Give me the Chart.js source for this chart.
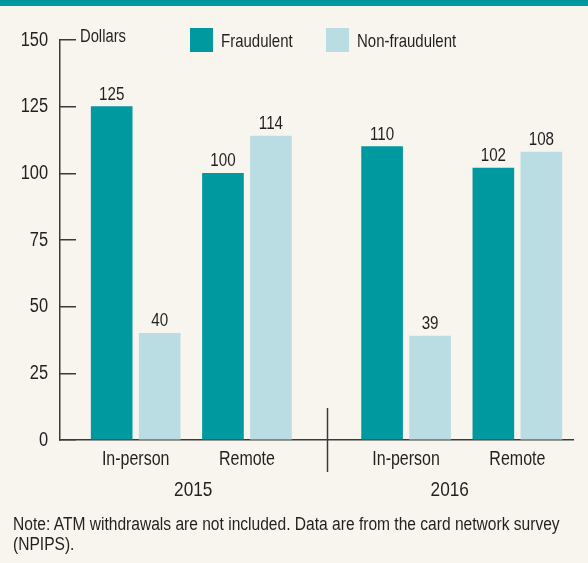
<!DOCTYPE html>
<html><head><meta charset="utf-8">
<script src="https://cdn.jsdelivr.net/npm/chart.js@4/dist/chart.umd.min.js"></script>
<style>
html,body{margin:0;padding:0;background:#f8f5ef;}
#wrap{position:relative;width:588px;height:563px;background:#f8f5ef;overflow:hidden;font-family:"Liberation Sans Narrow","Liberation Sans",Arial,sans-serif;color:#231f20;}
#band{position:absolute;left:0;top:0;width:588px;height:6px;background:#00999f;}
canvas{position:absolute;left:0;top:0;}
.leg{position:absolute;top:28px;height:24px;display:flex;align-items:center;font-size:18.5px;white-space:nowrap;}
.leg i{display:inline-block;width:23px;height:24px;margin-right:8px;flex:none;}
.leg span{display:inline-block;transform:scaleX(0.81);transform-origin:left center;position:relative;top:1px;}
#note{position:absolute;left:13px;top:514px;width:700px;font-size:18px;line-height:20px;white-space:nowrap;transform:scaleX(0.865);transform-origin:left top;}
</style></head><body>
<div id="wrap"><canvas id="c" width="588" height="563"></canvas><div id="band"></div><div id="legend"></div>
<div id="note">Note: ATM withdrawals are not included. Data are from the card network survey<br>(NPIPS).</div></div>
<script>
// ---- data ----
const years = ['2015', '2016'];
const channels = ['In-person', 'Remote'];
const seriesNames = ['Fraudulent', 'Non-fraudulent'];
const fraudulent = [125, 100, 110, 102];      // 2015 In-person, 2015 Remote, 2016 In-person, 2016 Remote
const nonFraudulent = [40, 114, 39, 108];
const yTicks = [0, 25, 50, 75, 100, 125, 150];
const unitLabel = 'Dollars';

// ---- style / layout ----
const FONT = '"Liberation Sans Narrow","Liberation Sans",Arial,sans-serif';
const SX = 0.82;                     // horizontal condensing of canvas text (narrow face)
const TEXT = '#231f20';
const AXIS = '#3a3a3a';
const colors = ['#00999f', '#b9dde3'];
const yearSpan = 2.43;               // gap between the year groups, in channel units
const xMin = -0.68, xMax = 3.93;

const xPos = [];
years.forEach((y, yi) => channels.forEach((c, ci) => xPos.push(yi * yearSpan + ci)));
const sepValue = (xPos[1] + xPos[2]) / 2;
const yearCenters = [(xMin + sepValue) / 2, (sepValue + xMax) / 2];

const toPts = arr => arr.map((v, i) => ({x: xPos[i], y: v}));

// legend (HTML)
const legendLeft = [190, 326];
const legendEl = document.getElementById('legend');
seriesNames.forEach((n, i) => {
  const d = document.createElement('div');
  d.className = 'leg';
  d.style.left = legendLeft[i] + 'px';
  d.innerHTML = '<i style="background:' + colors[i] + '"></i><span>' + n + '</span>';
  legendEl.appendChild(d);
});

const condense = {
  id: 'condense',
  beforeInit(chart) {
    const ctx = chart.ctx;
    if (ctx.__condensed) return;
    const orig = ctx.fillText.bind(ctx);
    ctx.fillText = function (text, x, y, maxWidth) {
      this.save();
      this.translate(x, y);
      this.scale(SX, 1);
      orig(text, 0, 0);
      this.restore();
    };
    ctx.__condensed = true;
  }
};

const extras = {
  id: 'extras',
  afterDatasetsDraw(chart) {
    const ctx = chart.ctx;
    ctx.save();
    ctx.fillStyle = TEXT;
    ctx.font = '18.5px ' + FONT;
    ctx.textAlign = 'center';
    ctx.textBaseline = 'alphabetic';
    chart.data.datasets.forEach((ds, di) => {
      chart.getDatasetMeta(di).data.forEach((bar, i) => {
        ctx.fillText(String(ds.data[i].y), bar.x, bar.y - 7);
      });
    });
    // unit label
    const ys = chart.scales.y;
    ctx.font = '18px ' + FONT;
    ctx.textAlign = 'left';
    ctx.fillText(unitLabel, chart.chartArea.left + 20, ys.getPixelForValue(yTicks[yTicks.length - 1]) + 2);
    // year separator
    const xs = chart.scales.x;
    const sx = Math.round(xs.getPixelForValue(sepValue)) + 0.5;
    ctx.strokeStyle = AXIS;
    ctx.lineWidth = 1.5;
    ctx.beginPath();
    ctx.moveTo(sx, chart.chartArea.bottom - 32);
    ctx.lineTo(sx, chart.chartArea.bottom + 32);
    ctx.stroke();
    ctx.restore();
  }
};

new Chart(document.getElementById('c'), {
  type: 'bar',
  data: {
    datasets: [
      {label: seriesNames[0], data: toPts(fraudulent), backgroundColor: colors[0], barThickness: 48, maxBarThickness: 41},
      {label: seriesNames[1], data: toPts(nonFraudulent), backgroundColor: colors[1], barThickness: 48, maxBarThickness: 41}
    ]
  },
  options: {
    responsive: false,
    animation: false,
    layout: {padding: {top: 40, left: 0, right: 15, bottom: 53}},
    plugins: {legend: {display: false}, tooltip: {enabled: false}},
    scales: {
      x: {
        type: 'linear', position: 'bottom', min: xMin, max: xMax, offset: false,
        afterBuildTicks: s => { s.ticks = xPos.map(v => ({value: v})); },
        afterFit: s => { s.height = 35; },
        ticks: {autoSkip: false, maxRotation: 0, color: TEXT, font: {family: FONT, size: 19.5}, padding: 8,
                callback: (v, i) => channels[i % channels.length]},
        grid: {display: false, drawTicks: false},
        border: {display: true, color: AXIS, width: 1.5}
      },
      x2: {
        type: 'linear', position: 'bottom', weight: 1, min: xMin, max: xMax, offset: false,
        afterBuildTicks: s => { s.ticks = yearCenters.map(v => ({value: v})); },
        afterFit: s => { s.height = 35; },
        ticks: {autoSkip: false, maxRotation: 0, color: TEXT, font: {family: FONT, size: 21}, padding: 3,
                callback: (v, i) => years[i]},
        grid: {display: false, drawTicks: false},
        border: {display: false}
      },
      y: {
        min: yTicks[0], max: yTicks[yTicks.length - 1],
        afterBuildTicks: s => { s.ticks = yTicks.map(v => ({value: v})); },
        afterFit: s => { s.width = 60; },
        ticks: {color: TEXT, font: {family: FONT, size: 20}, padding: 28},
        grid: {drawOnChartArea: false, tickLength: -16, color: AXIS, lineWidth: 1.5},
        border: {display: true, color: AXIS, width: 1.5}
      }
    }
  },
  plugins: [condense, extras]
});
</script>
</body></html>
